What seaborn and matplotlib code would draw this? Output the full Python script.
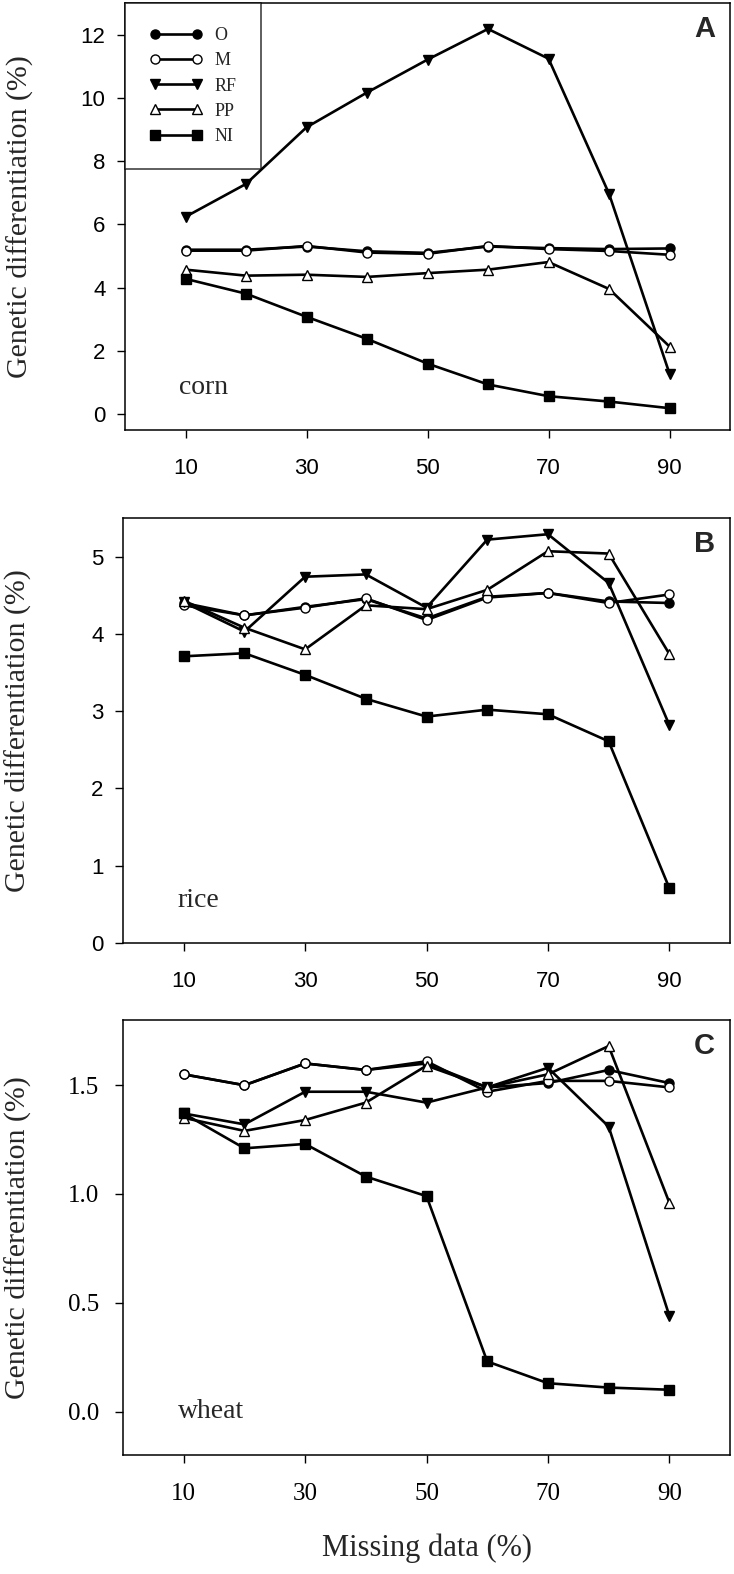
import numpy as np
import pandas as pd
import matplotlib
matplotlib.use("Agg")
import matplotlib.pyplot as plt
import seaborn as sns

# missing data levels (%)
missing = [10, 20, 30, 40, 50, 60, 70, 80, 90]
methods = ["O", "M", "RF", "PP", "NI"]

# corn
corn_O = [5.20, 5.20, 5.30, 5.15, 5.10, 5.30, 5.25, 5.22, 5.24]
corn_M = [5.17, 5.17, 5.32, 5.11, 5.07, 5.32, 5.22, 5.16, 5.04]
corn_RF = [6.24, 7.28, 9.07, 10.17, 11.21, 12.18, 11.24, 6.97, 1.28]
corn_PP = [4.57, 4.38, 4.41, 4.34, 4.46, 4.57, 4.81, 3.96, 2.14]
corn_NI = [4.28, 3.81, 3.08, 2.38, 1.60, 0.94, 0.57, 0.40, 0.19]

# rice
rice_O = [4.40, 4.24, 4.35, 4.45, 4.20, 4.48, 4.53, 4.42, 4.40]
rice_M = [4.37, 4.24, 4.34, 4.46, 4.18, 4.47, 4.53, 4.40, 4.51]
rice_RF = [4.41, 4.03, 4.74, 4.77, 4.34, 5.22, 5.29, 4.66, 2.82]
rice_PP = [4.43, 4.08, 3.80, 4.37, 4.32, 4.57, 5.07, 5.04, 3.74]
rice_NI = [3.71, 3.75, 3.47, 3.16, 2.93, 3.02, 2.96, 2.61, 0.71]

# wheat
wheat_O = [1.55, 1.50, 1.60, 1.57, 1.60, 1.49, 1.51, 1.57, 1.51]
wheat_M = [1.55, 1.50, 1.60, 1.57, 1.61, 1.47, 1.52, 1.52, 1.49]
wheat_RF = [1.37, 1.32, 1.47, 1.47, 1.42, 1.49, 1.58, 1.31, 0.44]
wheat_PP = [1.35, 1.29, 1.34, 1.42, 1.59, 1.49, 1.55, 1.68, 0.96]
wheat_NI = [1.37, 1.21, 1.23, 1.08, 0.99, 0.23, 0.13, 0.11, 0.10]

sns.set_theme(style="ticks")
plt.rcParams["font.family"] = ["Liberation Serif", "DejaVu Serif"]

styles = {
    "O": dict(marker="o", markerfacecolor="black"),
    "M": dict(marker="o", markerfacecolor="white"),
    "RF": dict(marker="v", markerfacecolor="black"),
    "PP": dict(marker="^", markerfacecolor="white"),
    "NI": dict(marker="s", markerfacecolor="black"),
}

panels = [
    ("A", "corn", [corn_O, corn_M, corn_RF, corn_PP, corn_NI],
     (-0.5, 13), [0, 2, 4, 6, 8, 10, 12], "%d", "Liberation Sans",
     [0.1703, 0.7268, 0.8243, 0.2713]),
    ("B", "rice", [rice_O, rice_M, rice_RF, rice_PP, rice_NI],
     (0, 5.5), [0, 1, 2, 3, 4, 5], "%d", "Liberation Sans",
     [0.1676, 0.4009, 0.8270, 0.2700]),
    ("C", "wheat", [wheat_O, wheat_M, wheat_RF, wheat_PP, wheat_NI],
     (-0.2, 1.8), [0.0, 0.5, 1.0, 1.5], "%.1f", "Liberation Serif",
     [0.1676, 0.0756, 0.8270, 0.2764]),
]

fig = plt.figure(figsize=(7.34, 15.74), dpi=100)

for letter, crop, series, ylim, yticks, fmt, tickfont, rect in panels:
    ax = fig.add_axes(rect)
    for name, vals in zip(methods, series):
        df = pd.DataFrame({"missing": missing, "value": vals})
        sns.lineplot(data=df, x="missing", y="value", ax=ax, color="black",
                     linewidth=1.9, markersize=6.5, markeredgecolor="black",
                     markeredgewidth=1.0, label=name, legend=False,
                     **styles[name])
    ax.set_xlim(0, 100)
    ax.set_ylim(*ylim)
    ax.set_xticks([10, 30, 50, 70, 90])
    ax.set_yticks(yticks)
    ax.set_yticklabels([fmt % t for t in yticks])
    for lab in ax.get_xticklabels() + ax.get_yticklabels():
        lab.set_fontfamily(tickfont)
        lab.set_fontsize(16 if tickfont == "Liberation Sans" else 18)
    ax.tick_params(axis="both", direction="out", length=6, width=1.0,
                   colors="black")
    ax.tick_params(axis="x", pad=14)
    ax.tick_params(axis="y", pad=8 if tickfont == "Liberation Sans" else 11)
    for sp in ax.spines.values():
        sp.set_visible(True)
        sp.set_linewidth(1.1)
        sp.set_color("black")
    ax.set_xlabel("")
    ax.set_ylabel("Genetic differentiation (%)", fontsize=21.5)
    ax.yaxis.set_label_coords(-0.15, 0.5)
    ax.text(0.09, 0.10, crop, transform=ax.transAxes, fontsize=20,
            ha="left", va="center")
    ax.text(0.975, 0.972, letter, transform=ax.transAxes, fontsize=21,
            fontweight="bold", family="Liberation Sans", ha="right", va="top")
    if letter == "A":
        leg = ax.legend(loc="upper left", bbox_to_anchor=(0, 1),
                        borderaxespad=0, numpoints=2, fontsize=13,
                        frameon=True, fancybox=False, edgecolor="black",
                        borderpad=1.35, handlelength=2.95, handletextpad=0.65,
                        labelspacing=0.45)
        leg.get_frame().set_linewidth(1.1)
    if letter == "C":
        ax.set_xlabel("Missing data (%)", fontsize=22)
        ax.xaxis.set_label_coords(0.5, -0.18)

fig.savefig("out.png", dpi=100)
